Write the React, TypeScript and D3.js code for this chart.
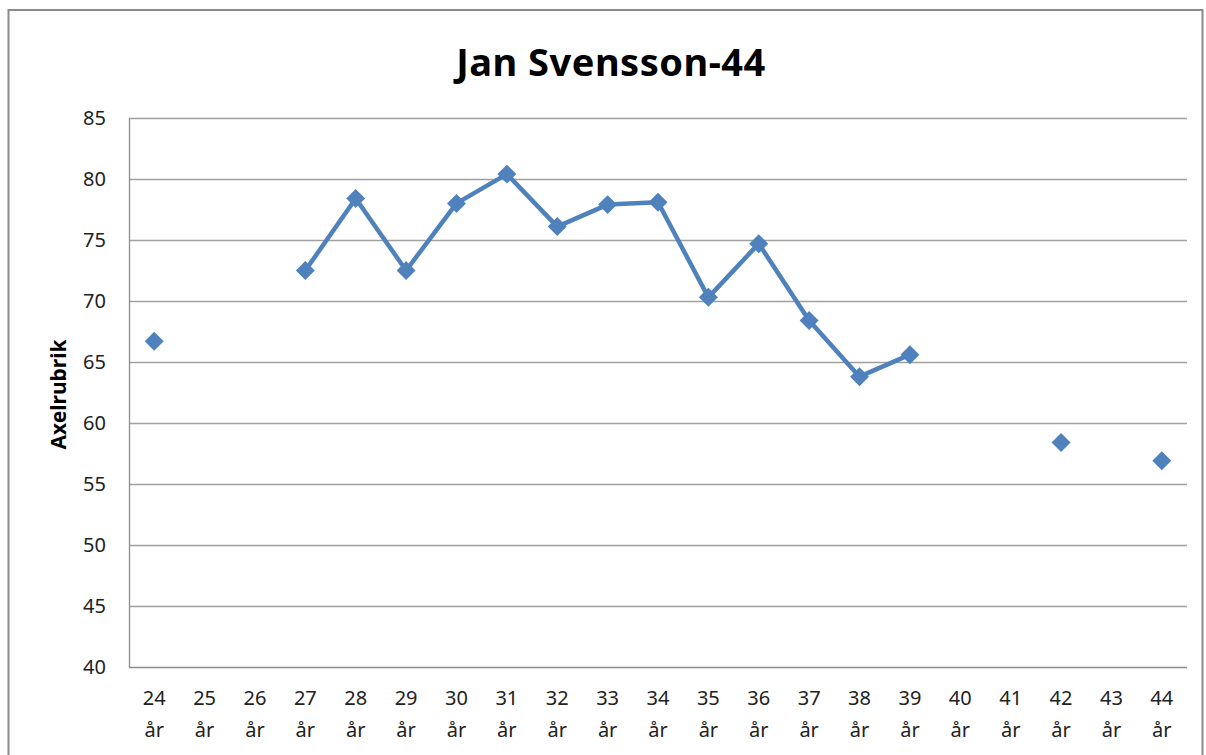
import { useEffect, useRef } from 'react';
import * as d3 from 'd3';

const ages = [24, 25, 26, 27, 28, 29, 30, 31, 32, 33, 34, 35, 36, 37, 38, 39, 40, 41, 42, 43, 44];
const values: (number | null)[] = [
  66.7, null, null, 72.5, 78.4, 72.5, 78.0, 80.4, 76.1, 77.9, 78.1, 70.3, 74.7, 68.4, 63.8, 65.6,
  null, null, 58.4, null, 56.9,
];
const yTicks = [40, 45, 50, 55, 60, 65, 70, 75, 80, 85];
const title = 'Jan Svensson-44';
const yLabel = 'Axelrubrik';

const WIDTH = 1206;
const HEIGHT = 755;
const FONT = "'Noto Sans', 'Open Sans', sans-serif";
const BLUE = '#4F81BD';

export default function App() {
  const svgRef = useRef<SVGSVGElement>(null);

  useEffect(() => {
    if (!svgRef.current) return;
    const svg = d3.select(svgRef.current);
    svg.selectAll('*').remove();

    const margin = { top: 118, right: 19, bottom: 88, left: 129 };
    const innerWidth = WIDTH - margin.left - margin.right;
    const innerHeight = HEIGHT - margin.top - margin.bottom;

    svg.append('rect').attr('width', WIDTH).attr('height', HEIGHT).attr('fill', '#fff');

    // outer chart frame
    svg
      .append('rect')
      .attr('x', 8.5)
      .attr('y', 10)
      .attr('width', 1194)
      .attr('height', 800)
      .attr('fill', 'none')
      .attr('stroke', '#8a8a8a')
      .attr('stroke-width', 2);

    svg
      .append('text')
      .attr('x', 611)
      .attr('y', 76)
      .attr('text-anchor', 'middle')
      .style('font-family', FONT)
      .style('font-weight', 'bold')
      .style('font-size', '38px')
      .style('letter-spacing', '0.5px')
      .text(title);

    const g = svg.append('g').attr('transform', `translate(${margin.left},${margin.top})`);

    const x = d3
      .scaleBand<string>()
      .domain(ages.map(String))
      .range([0, innerWidth]);
    const y = d3.scaleLinear().domain([40, 85]).range([innerHeight, 0]);

    // grid lines
    g.selectAll('.grid')
      .data(yTicks.filter((t) => t !== 40))
      .enter()
      .append('line')
      .attr('x1', 0)
      .attr('x2', innerWidth)
      .attr('y1', (d) => Math.round(y(d)) + 0.5)
      .attr('y2', (d) => Math.round(y(d)) + 0.5)
      .attr('stroke', '#a0a0a0')
      .attr('stroke-width', 1.3);

    // axes lines
    g.append('line')
      .attr('x1', 0.5)
      .attr('x2', 0.5)
      .attr('y1', 0)
      .attr('y2', innerHeight)
      .attr('stroke', '#8c8c8c')
      .attr('stroke-width', 1.3);
    g.append('line')
      .attr('x1', 0)
      .attr('x2', innerWidth)
      .attr('y1', innerHeight + 0.5)
      .attr('y2', innerHeight + 0.5)
      .attr('stroke', '#8c8c8c')
      .attr('stroke-width', 1.3);

    // y tick labels
    g.selectAll('.ylab')
      .data(yTicks)
      .enter()
      .append('text')
      .attr('x', -23)
      .attr('y', (d) => y(d))
      .attr('dy', '0.35em')
      .attr('text-anchor', 'end')
      .style('font-family', FONT)
      .style('font-size', '20px')
      .style('fill', '#222')
      .text((d) => d);

    // x tick labels
    const xl = g
      .selectAll('.xlab')
      .data(ages)
      .enter()
      .append('text')
      .attr('text-anchor', 'middle')
      .style('font-family', FONT)
      .style('font-size', '20px')
      .style('fill', '#222');
    xl.append('tspan')
      .attr('x', (d) => (x(String(d)) as number) + x.bandwidth() / 2)
      .attr('y', innerHeight + 38)
      .text((d) => d);
    xl.append('tspan')
      .attr('x', (d) => (x(String(d)) as number) + x.bandwidth() / 2)
      .attr('y', innerHeight + 70)
      .text('år');

    // y axis title
    svg
      .append('text')
      .attr('transform', `translate(66,${margin.top + innerHeight / 2 + 2}) rotate(-90)`)
      .attr('text-anchor', 'middle')
      .style('font-family', FONT)
      .style('font-weight', 'bold')
      .style('font-size', '21px')
      .text(yLabel);

    const pts = ages.map((a, i) => ({ a, v: values[i] }));
    const line = d3
      .line<{ a: number; v: number | null }>()
      .defined((d) => d.v !== null)
      .x((d) => (x(String(d.a)) as number) + x.bandwidth() / 2)
      .y((d) => y(d.v as number));

    g.append('path')
      .datum(pts)
      .attr('d', line)
      .attr('fill', 'none')
      .attr('stroke', BLUE)
      .attr('stroke-width', 4.5)
      .attr('stroke-linejoin', 'round');

    const sym = d3.symbol().type(d3.symbolSquare).size(180);
    g.selectAll('.marker')
      .data(pts.filter((d) => d.v !== null))
      .enter()
      .append('path')
      .attr('d', sym)
      .attr(
        'transform',
        (d) =>
          `translate(${(x(String(d.a)) as number) + x.bandwidth() / 2},${y(d.v as number)}) rotate(45)`
      )
      .attr('fill', BLUE);
  }, []);

  return (
    <svg
      ref={svgRef}
      width={WIDTH}
      height={HEIGHT}
      style={{ position: 'absolute', left: 0, top: 0 }}
    />
  );
}
